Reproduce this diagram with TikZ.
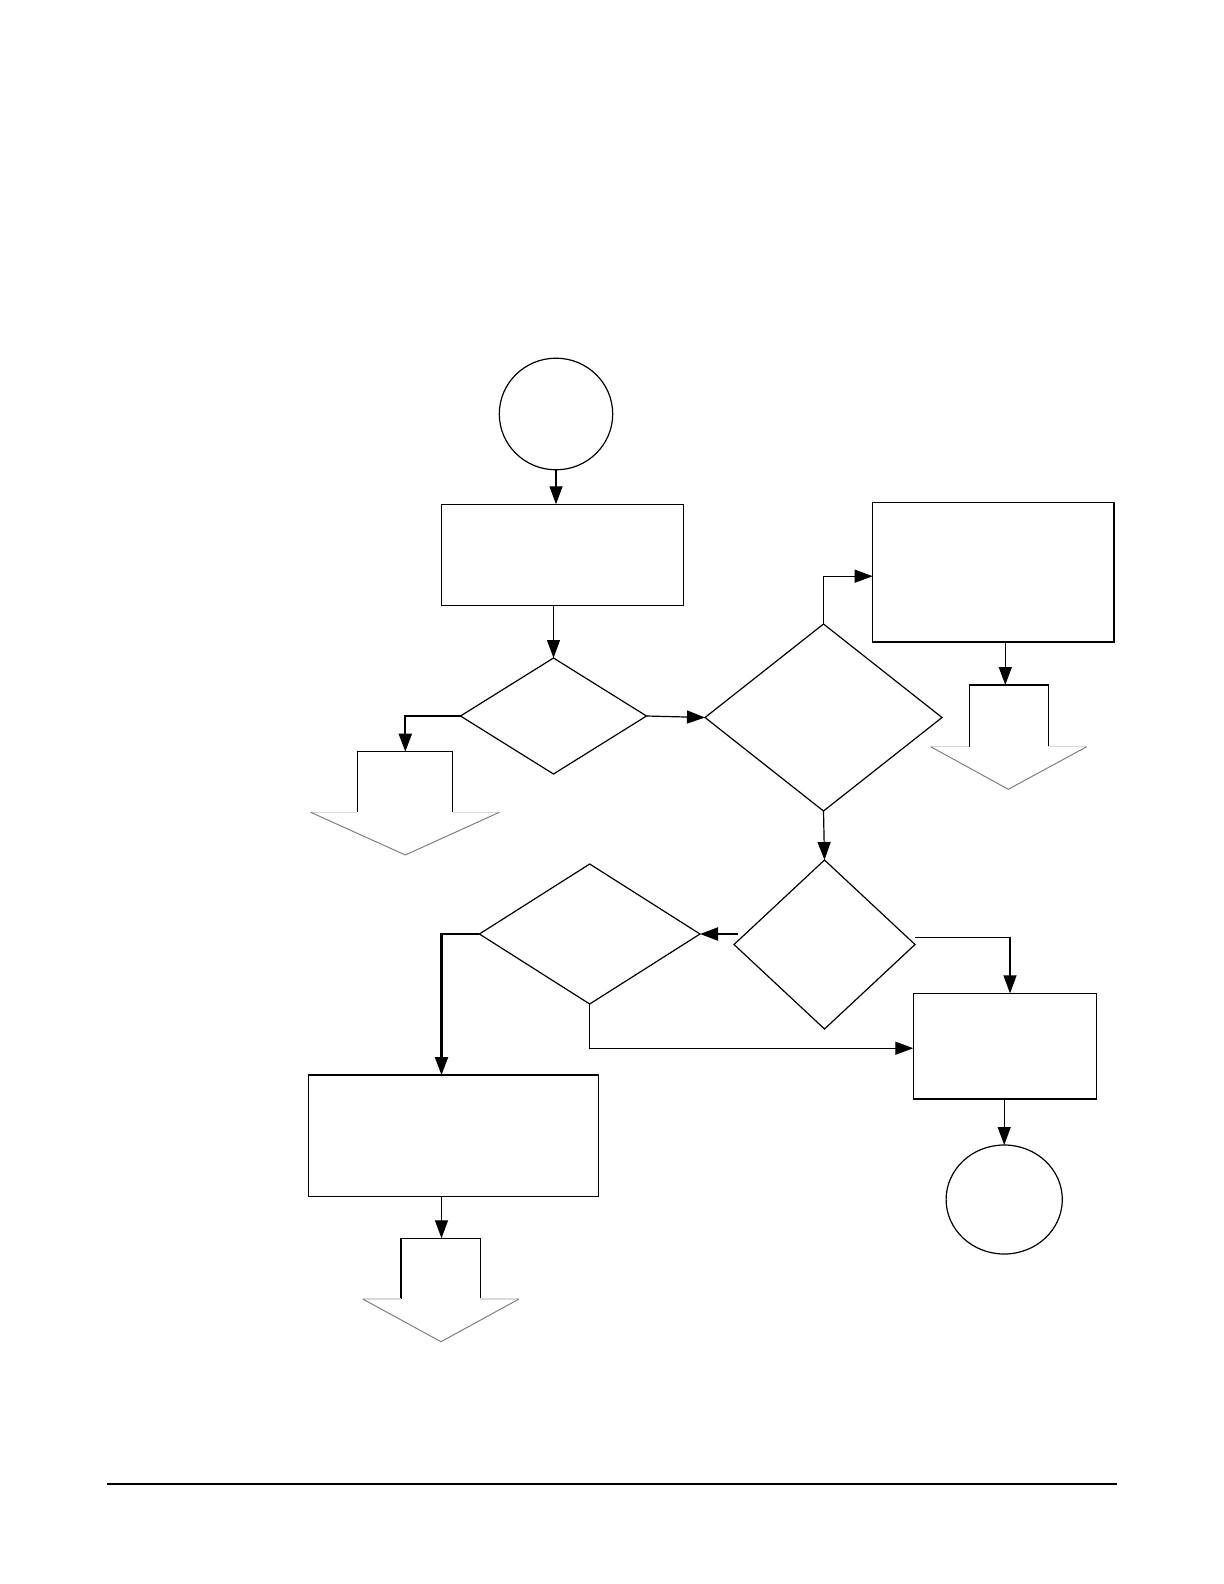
\documentclass[tikz,border=0pt]{standalone}
\usetikzlibrary{shapes.geometric,arrows.meta}
\begin{document}
\begin{tikzpicture}[x=0.5pt,y=-0.5pt,
  base/.style={draw=black,line width=0.6pt,inner sep=0pt,outer sep=0pt},
  boxn/.style={base,rectangle},
  ovaln/.style={base,ellipse},
  decn/.style={base,diamond},
  arr/.style={line width=0.6pt,-{Triangle[length=9pt,width=6.5pt]}},
  heavy/.style={line width=1.1pt},
  stem/.style={line width=0.6pt,draw=black},
  headdiag/.style={line width=0.5pt,draw=black!50},
  headledge/.style={line width=0.6pt,draw=black!15}]
\useasboundingbox (0,0) rectangle (1224,1584);
\fill[white] (0,0) rectangle (1224,1584);

% nodes
\node[ovaln,minimum width=56.7pt,minimum height=55.8pt] (c1) at (556,414) {};
\node[boxn,minimum width=121pt,minimum height=50.5pt] (b1) at (562.3,554.8) {};
\node[decn,minimum width=93pt,minimum height=58pt] (d1) at (553.5,716) {};
\node[decn,minimum width=118.5pt,minimum height=93.5pt] (d2) at (823.5,717.5) {};
\node[boxn,minimum width=120.8pt,minimum height=69.8pt] (b2) at (993.5,572.2) {};
\node[decn,minimum width=90.5pt,minimum height=84.5pt] (d3) at (824.5,944.5) {};
\node[decn,minimum width=110.3pt,minimum height=70pt] (d4) at (589.7,934) {};
\node[boxn,minimum width=91.7pt,minimum height=52.8pt] (b3) at (1005,1046.2) {};
\node[ovaln,minimum width=58.1pt,minimum height=54.5pt] (c2) at (1004.2,1199.5) {};
\node[boxn,minimum width=145pt,minimum height=60.8pt] (b4) at (453.3,1135.8) {};

% heavier right and bottom edges of box 2
\draw[line width=1.1pt] (b2.north east) -- (b2.south east) -- (b2.south west);

% block arrows (off-page connectors)
\coordinate (ba1) at (405.3,751.7);
\draw[stem] (357.3,812.3) -- (357.3,751.7) -- (452.7,751.7) -- (452.7,812.3);
\draw[headledge] (310.7,812.3) -- (357.3,812.3) (452.7,812.3) -- (499.3,812.3);
\draw[headdiag] (310.7,812.3) -- (405.3,855) -- (499.3,812.3);

\coordinate (ba2) at (1005.3,685);
\draw[stem] (969.3,746.7) -- (969.3,685) -- (1048.3,685) -- (1048.3,746.7);
\draw[headledge] (930.7,746.7) -- (969.3,746.7) (1048.3,746.7) -- (1086.7,746.7);
\draw[headdiag] (930.7,746.7) -- (1008.3,789.3) -- (1086.7,746.7);

\coordinate (ba3) at (441.5,1238.3);
\draw[stem] (401,1299) -- (401,1238.3) -- (480.3,1238.3) -- (480.3,1299);
\draw[headledge] (362.7,1299) -- (401,1299) (480.3,1299) -- (519,1299);
\draw[headdiag] (362.7,1299) -- (441,1341.7) -- (519,1299);

% connectors
\draw[arr] (c1.south) -- (c1.south |- b1.north);
\draw[arr] (d1.north |- b1.south) -- (d1.north);
\draw[arr,heavy] (d1.west) -| (ba1);
\draw[arr] (d1.east) -- (d2.west);
\draw[arr] (d2.north) |- ([yshift=-2pt]b2.west);
\draw[arr] (b2.south -| ba2) -- (ba2);
\draw[arr] (d2.south) -- (d3.north);
\draw[arr,heavy] ([xshift=2pt]d4.east -| d3.west) -- (d4.east);
\draw[arr] ([yshift=3.5pt]d3.east) -| ([xshift=2.5pt]b3.north);
\draw[arr] (d4.south) |- ([yshift=-1pt]b3.west);
\draw[arr,heavy] (d4.west) -| (ba3 |- b4.north);
\draw[arr] (ba3 |- b4.south) -- (ba3);
\draw[arr] (c2.north |- b3.south) -- (c2.north);

% page rule
\draw[line width=1pt] (106.7,1483.7) -- (1116.7,1483.7);
\end{tikzpicture}
\end{document}
